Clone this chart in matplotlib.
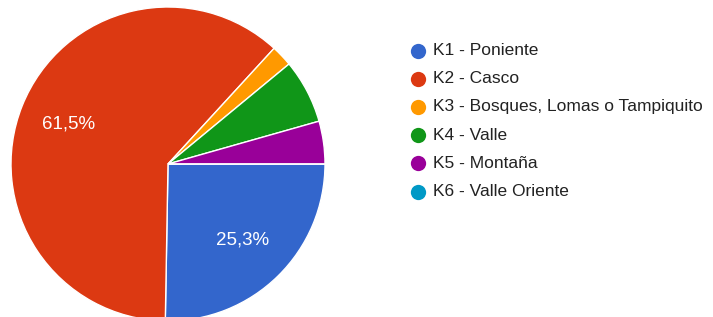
import matplotlib.pyplot as plt

# respuestas por zona
labels = ["K1 - Poniente", "K2 - Casco", "K3 - Bosques, Lomas o Tampiquito",
          "K4 - Valle", "K5 - Montaña", "K6 - Valle Oriente"]
counts = [23, 56, 2, 6, 4, 0]
colors = ["#3366cc", "#dc3912", "#ff9900", "#109618", "#990099", "#0099c6"]

plt.rcParams['font.family'] = ['Liberation Sans', 'DejaVu Sans']

W, H = 713, 317
fig = plt.figure(figsize=(W / 100, H / 100), dpi=100)

# pie: center ~ (168, 164) px, radius ~157 px
cx, cy, r = 168, 164, 157
ax = fig.add_axes([(cx - r) / W, (H - cy - r) / H, 2 * r / W, 2 * r / H])


def pct(p):
    # Google only labels the big slices
    if p < 10:
        return ''
    return f'{p:.1f}%'.replace('.', ',')


wedges, texts, autotexts = ax.pie(
    counts, colors=colors, startangle=0, counterclock=False,
    autopct=pct, pctdistance=0.68, radius=1,
    wedgeprops=dict(edgecolor='white', linewidth=1),
    textprops=dict(color='white', fontsize=13.5))
ax.set_xlim(-1, 1)
ax.set_ylim(-1, 1)
ax.set_aspect('equal')
ax.axis('off')

# legend drawn in pixel coords
lax = fig.add_axes([0, 0, 1, 1])
lax.set_xlim(0, W)
lax.set_ylim(H, 0)
lax.axis('off')
y0, dy = 50.5, 28.2
for i, (lab, c) in enumerate(zip(labels, colors)):
    y = y0 + i * dy
    lax.plot(418, y, 'o', ms=11, color=c, mec='none')
    lax.text(433, y, lab, va='center', ha='left', fontsize=12.5, color='#222222')

fig.savefig('out.png', dpi=100)
